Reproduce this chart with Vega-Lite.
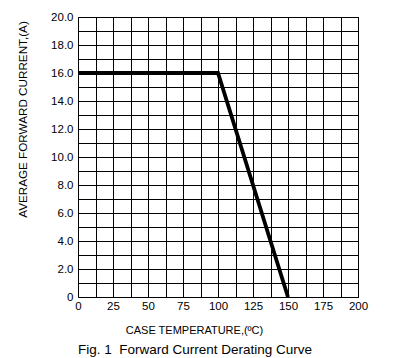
{
  "$schema": "https://vega.github.io/schema/vega-lite/v6.json",
  "autosize": "none",
  "width": 280,
  "height": 280,
  "padding": {"left": 78, "top": 17, "right": 36, "bottom": 61},
  "background": "white",
  "config": {
    "font": "Liberation Sans",
    "view": {"stroke": "black", "strokeWidth": 1},
    "axis": {
      "grid": true, "gridColor": "black", "gridOpacity": 1, "gridWidth": 1,
      "ticks": false, "domain": false,
      "labelColor": "black", "labelFont": "Liberation Sans", "labelFontSize": 11.5,
      "titleColor": "black", "titleFont": "Liberation Sans", "titleFontWeight": "normal",
      "labelOverlap": false, "labelBound": false, "labelFlush": false
    }
  },
  "title": {
    "text": "Fig. 1\u00a0\u00a0Forward Current Derating Curve",
    "orient": "bottom", "anchor": "middle", "frame": "group",
    "font": "Liberation Sans", "fontSize": 13.5, "fontWeight": "normal", "color": "black",
    "dx": -23, "offset": 8
  },
  "data": {
    "values": [
      {"temp": 0, "current": 16},
      {"temp": 100, "current": 16},
      {"temp": 150, "current": 0}
    ]
  },
  "mark": {"type": "line", "color": "black", "strokeWidth": 3.8, "strokeJoin": "miter", "clip": true},
  "encoding": {
    "x": {
      "field": "temp", "type": "quantitative",
      "scale": {"domain": [0, 200], "nice": false},
      "axis": {
        "values": [0, 12.5, 25, 37.5, 50, 62.5, 75, 87.5, 100, 112.5, 125, 137.5, 150, 162.5, 175, 187.5, 200],
        "labelExpr": "datum.value % 25 == 0 ? format(datum.value, 'd') : ''",
        "labelPadding": 3, "labelBaseline": "top",
        "title": "CASE TEMPERATURE,(ºC)", "titleFontSize": 11,
        "titleX": 116, "titleY": 33, "titleAnchor": null, "titleBaseline": "middle", "titleAlign": "center"
      }
    },
    "y": {
      "field": "current", "type": "quantitative",
      "scale": {"domain": [0, 20], "nice": false},
      "axis": {
        "values": [0,1,2,3,4,5,6,7,8,9,10,11,12,13,14,15,16,17,18,19,20],
        "labelExpr": "datum.value == 0 ? '0' : (datum.value % 2 == 0 ? format(datum.value, '.1f') : '')",
        "labelPadding": 5,
        "title": "AVERAGE FORWARD CURRENT,(A)", "titleFontSize": 11.7,
        "titleX": -56, "titleY": 102, "titleBaseline": "middle", "titleAlign": "center", "titleAngle": -90
      }
    }
  }
}
